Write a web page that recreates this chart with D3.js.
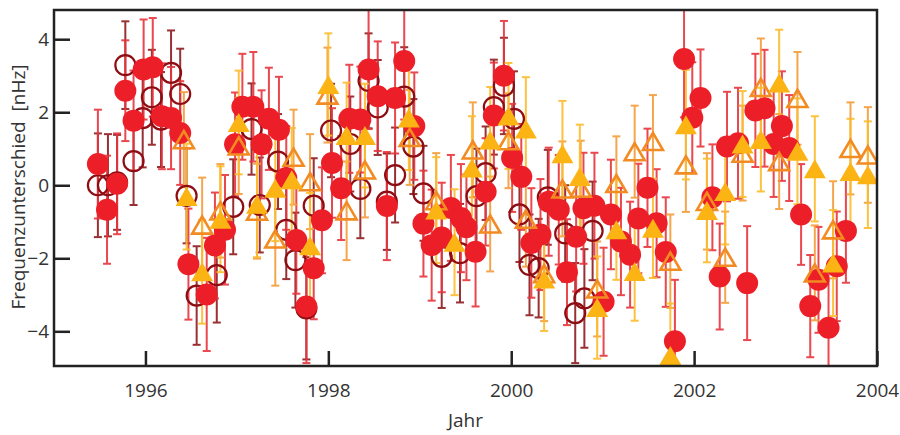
<!DOCTYPE html>
<html>
<head>
<meta charset="utf-8">
<script src="https://cdn.jsdelivr.net/npm/d3@7"></script>
<style>
  html, body { margin: 0; padding: 0; background: #fff; }
  svg { display: block; font-family: "Open Sans", "DejaVu Sans", sans-serif; }
</style>
</head>
<body>
<svg id="chart" width="900" height="435"></svg>
<script>
// Series 1: dark red open circles
const darkYears = [1995.48,1995.59,1995.69,1995.78,1995.87,1995.97,1996.07,1996.17,1996.28,1996.38,
  1996.45,1996.56,1996.78,1996.96,1997.16,1997.25,1997.45,1997.54,1997.64,1997.76,
  1997.84,1998.03,1998.24,1998.35,1998.44,1998.54,1998.64,1998.73,1998.83,1998.93,
  1999.04,1999.24,1999.44,1999.62,1999.72,1999.81,1999.92,2000.03,2000.09,2000.20,
  2000.30,2000.40,2000.59,2000.70,2000.80,2000.89];
const darkValues = [0.0,0.0,0.08,3.29,0.66,1.84,2.41,1.8,3.08,2.5,
  -0.29,-3.02,-2.46,-0.59,1.54,-0.54,0.65,-1.22,-2.05,-3.37,
  -0.56,1.5,1.13,-0.1,2.86,2.13,-0.45,0.28,2.43,1.06,
  -0.22,-1.96,-1.86,-0.3,0.33,2.14,2.72,1.82,-0.8,-2.18,
  -2.27,-0.33,-1.32,-3.5,-3.1,-1.25];
const darkErrors = [1.42,1.4,1.3,1.2,1.2,1.35,1.3,1.3,1.16,1.24,
  1.3,1.35,1.3,1.3,1.25,1.3,1.3,1.35,1.3,1.4,
  1.3,1.28,1.3,1.35,1.3,1.3,1.32,1.3,1.35,1.3,
  1.3,1.4,1.35,1.3,1.28,1.3,1.32,1.3,1.3,1.38,
  1.35,1.3,1.32,1.37,1.35,1.35];

// Series 2: red filled circles
const redYears = [1995.48,1995.58,1995.69,1995.78,1995.87,1995.98,1996.08,1996.18,1996.28,1996.38,
  1996.47,1996.67,1996.76,1996.87,1996.98,1997.06,1997.18,1997.27,1997.35,1997.46,
  1997.54,1997.65,1997.76,1997.84,1997.93,1998.04,1998.14,1998.23,1998.35,1998.44,
  1998.54,1998.64,1998.73,1998.83,1998.94,1999.04,1999.13,1999.24,1999.34,1999.45,
  1999.51,1999.61,1999.72,1999.81,1999.92,2000.01,2000.11,2000.22,2000.32,2000.41,
  2000.52,2000.61,2000.71,2000.79,2000.91,2001.01,2001.09,2001.20,2001.30,2001.39,
  2001.49,2001.59,2001.69,2001.79,2001.89,2001.98,2002.07,2002.20,2002.28,2002.36,
  2002.48,2002.58,2002.67,2002.77,2002.87,2002.96,2003.04,2003.17,2003.27,2003.36,
  2003.47,2003.56,2003.66];
const redValues = [0.58,-0.67,0.04,2.59,1.77,3.17,3.23,1.89,1.84,1.43,
  -2.16,-2.99,-1.65,-1.22,1.12,2.15,2.15,1.12,1.82,1.52,
  0.2,-1.5,-3.32,-2.27,-0.96,0.61,-0.08,1.82,1.8,3.17,
  2.44,-0.57,2.39,3.4,1.62,-1.05,-1.64,-1.43,-0.62,-0.9,
  -1.15,-1.82,-0.18,1.91,3.0,0.75,0.23,-1.58,-1.35,-0.45,
  -0.67,-2.38,-1.41,-0.63,-0.56,-3.19,-0.8,-1.54,-1.9,-0.91,
  -0.07,-1.04,-1.83,-4.27,3.46,1.85,2.39,-0.33,-2.5,1.06,
  1.15,-2.68,2.05,2.11,1.13,1.62,1.02,-0.8,-3.31,-2.59,
  -3.9,-2.22,-1.25];
const redErrors = [1.49,1.48,1.38,1.38,1.37,1.37,1.35,1.45,1.4,1.42,
  1.52,1.55,1.45,1.5,1.42,1.45,1.5,1.48,1.4,1.45,
  1.42,1.47,1.55,1.4,1.45,1.5,1.42,1.48,1.45,1.63,
  1.5,1.48,1.52,1.6,1.47,1.45,1.52,1.5,1.45,1.48,
  1.45,1.5,1.47,1.45,1.5,1.48,1.45,1.5,1.52,1.48,
  1.5,1.45,1.5,1.52,1.45,1.48,1.5,1.47,1.45,1.5,
  1.62,1.48,1.5,1.68,1.6,1.52,1.33,1.45,1.45,1.5,
  1.52,1.56,1.55,1.6,1.45,1.5,1.45,1.38,1.4,1.45,
  1.5,1.5,1.42];

// Series 3: orange open triangles
const openTriYears = [1996.42,1996.62,1996.82,1997.02,1997.22,1997.42,1997.62,1997.80,1997.99,1998.20,
  1998.40,1998.89,1999.18,1999.58,1999.77,1999.97,2000.16,2000.36,2000.56,2000.76,
  2000.94,2001.15,2001.35,2001.55,2001.74,2001.91,2002.14,2002.34,2002.53,2002.73,
  2002.93,2003.13,2003.32,2003.52,2003.71,2003.90];
const openTriValues = [1.25,-1.09,-0.7,1.08,-0.71,-1.47,0.77,0.1,2.47,-0.7,
  0.42,1.31,-0.42,0.97,-1.06,1.22,-0.93,-2.42,-0.1,-0.08,
  -2.84,0.05,0.92,1.2,-2.08,0.56,-0.44,-1.97,0.88,2.68,
  0.65,2.38,-2.4,-1.22,1.01,0.83];
const openTriErrors = [1.3,1.3,1.28,1.32,1.3,1.28,1.3,1.3,1.3,1.35,
  1.3,1.3,1.3,1.3,1.3,1.3,1.3,1.3,1.3,1.3,
  1.3,1.29,1.26,1.27,1.28,1.29,1.32,1.25,1.3,1.34,
  1.3,1.27,1.3,1.33,1.26,1.31];

// Series 4: yellow filled triangles
const fillTriYears = [1996.45,1996.62,1996.82,1997.02,1997.22,1997.42,1997.60,1997.80,1998.00,1998.20,
  1998.40,1998.88,1999.18,1999.38,1999.57,1999.77,1999.97,2000.16,2000.36,2000.56,
  2000.75,2000.94,2001.15,2001.35,2001.55,2001.74,2001.91,2002.14,2002.34,2002.53,
  2002.73,2002.93,2003.13,2003.32,2003.52,2003.71,2003.90];
const fillTriValues = [-0.31,-2.37,-0.93,1.72,-0.52,-0.08,0.15,-1.66,2.76,1.36,
  1.36,1.84,-0.68,-1.56,0.47,1.24,1.9,1.54,-2.57,0.86,
  0.24,-3.35,-1.22,-2.36,-1.18,-4.66,1.66,-0.69,-0.17,1.13,
  1.25,2.8,0.93,0.45,-2.13,0.38,0.29];
const fillTriErrors = [1.45,1.42,1.45,1.42,1.45,1.45,1.42,1.45,1.4,1.45,
  1.42,1.42,1.45,1.45,1.42,1.45,1.45,1.42,1.42,1.45,
  1.42,1.4,1.37,1.35,1.36,1.42,1.5,1.42,1.45,1.45,
  1.42,1.46,1.45,1.44,1.45,1.44,1.46];

const xTicks = [1996, 1998, 2000, 2002, 2004];
const yTicks = [-4, -2, 0, 2, 4];

const svg = d3.select("#chart");
const plotLeft = 54, plotRight = 877, plotTop = 10, plotBottom = 366;

const x = d3.scaleLinear().domain([1995, 2004]).range([plotLeft, plotRight]);
const y = d3.scaleLinear().domain([-4.95, 4.8]).range([plotBottom, plotTop]);

const axisColor = "#222";
const textColor = "#333";

svg.append("defs").append("clipPath").attr("id", "plotClip")
  .append("rect").attr("x", plotLeft).attr("y", plotTop)
  .attr("width", plotRight - plotLeft).attr("height", plotBottom - plotTop);

const series = [
  { years: darkYears, values: darkValues, errors: darkErrors, type: "openCircle", color: "#8e0d12", bar: "#8e1a1e" },
  { years: redYears, values: redValues, errors: redErrors, type: "filledCircle", color: "#ec1f28", bar: "#e8343c" },
  { years: openTriYears, values: openTriValues, errors: openTriErrors, type: "openTri", color: "#f28b22", bar: "#f59d3a" },
  { years: fillTriYears, values: fillTriValues, errors: fillTriErrors, type: "filledTri", color: "#fcb415", bar: "#fcbc2c" }
];

const plot = svg.append("g").attr("clip-path", "url(#plotClip)");

// error bars with caps
const barLayer = plot.append("g");
series.forEach(s => {
  const g = barLayer.append("g").attr("stroke", s.bar).attr("stroke-width", 2).attr("opacity", 0.9);
  s.years.forEach((yr, i) => {
    const cx = x(yr), v = s.values[i], e = s.errors[i];
    const y1 = y(v + e), y2 = y(v - e);
    g.append("line").attr("x1", cx).attr("x2", cx).attr("y1", y1).attr("y2", y2);
    g.append("line").attr("x1", cx - 4).attr("x2", cx + 4).attr("y1", y1).attr("y2", y1);
    g.append("line").attr("x1", cx - 4).attr("x2", cx + 4).attr("y1", y2).attr("y2", y2);
  });
});

// markers
const triPath = "M0,-9.5L11,9.5L-11,9.5Z";
const openTriPath = "M0,-8.6L10,8.6L-10,8.6Z";
series.forEach(s => {
  const g = plot.append("g");
  s.years.forEach((yr, i) => {
    const cx = x(yr), cy = y(s.values[i]);
    if (s.type === "openCircle") {
      g.append("circle").attr("cx", cx).attr("cy", cy).attr("r", 10)
        .attr("fill", "none").attr("stroke", s.color).attr("stroke-width", 2.2);
    } else if (s.type === "filledCircle") {
      g.append("circle").attr("cx", cx).attr("cy", cy).attr("r", 11).attr("fill", s.color);
    } else if (s.type === "openTri") {
      g.append("path").attr("d", openTriPath).attr("transform", `translate(${cx},${cy})`)
        .attr("fill", "none").attr("stroke", s.color).attr("stroke-width", 2.6);
    } else {
      g.append("path").attr("d", triPath).attr("transform", `translate(${cx},${cy})`)
        .attr("fill", s.color);
    }
  });
});

// axes with inward ticks
const fmt = d3.format("d");
const xAxis = svg.append("g").attr("transform", `translate(0,${plotBottom})`)
  .call(d3.axisBottom(x).tickValues(xTicks).tickFormat(fmt).tickSizeInner(-15).tickSizeOuter(0).tickPadding(18));
const yAxis = svg.append("g").attr("transform", `translate(${plotLeft},0)`)
  .call(d3.axisLeft(y).tickValues(yTicks).tickSizeInner(-16).tickSizeOuter(0).tickPadding(5));

[xAxis, yAxis].forEach(a => {
  a.select(".domain").remove();
  a.selectAll(".tick line").attr("stroke", axisColor).attr("stroke-width", 2.5);
  a.selectAll(".tick text").attr("fill", textColor).attr("font-size", 19)
    .attr("font-family", "'Open Sans', 'DejaVu Sans', sans-serif");
});

// frame
svg.append("rect").attr("x", plotLeft).attr("y", plotTop)
  .attr("width", plotRight - plotLeft).attr("height", plotBottom - plotTop)
  .attr("fill", "none").attr("stroke", axisColor).attr("stroke-width", 2.5);

// axis titles
svg.append("text").attr("x", (plotLeft + plotRight) / 2).attr("y", 427)
  .attr("text-anchor", "middle").attr("fill", textColor).attr("font-size", 19)
  .text("Jahr");
svg.append("text").attr("transform", "translate(25,187) rotate(-90)")
  .attr("text-anchor", "middle").attr("fill", textColor).attr("font-size", 19)
  .style("white-space", "pre")
  .text("Frequenzunterschied  [nHz]");
</script>
</body>
</html>
